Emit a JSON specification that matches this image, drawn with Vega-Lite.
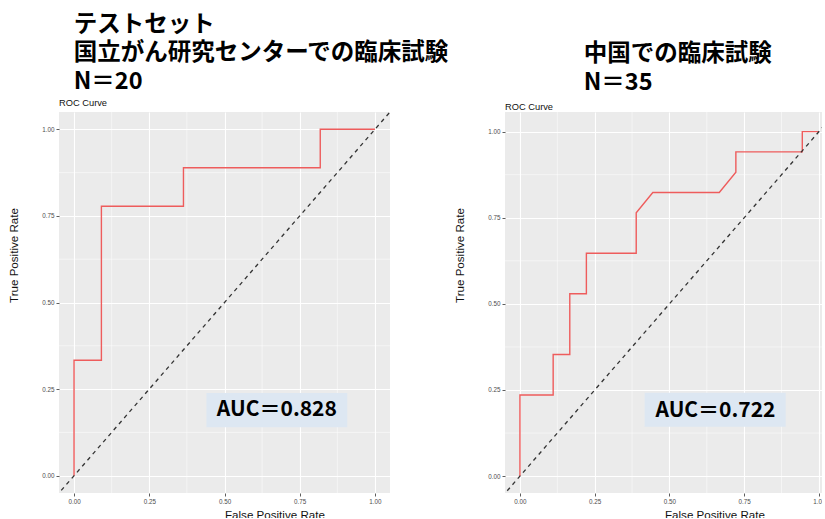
{
  "$schema": "https://vega.github.io/schema/vega-lite/v6.json",
  "background": "white",
  "padding": {"left": 8, "top": 12, "right": -4, "bottom": -3},
  "spacing": 4,
  "datasets": {
    "rocA": [
      {"x": 0, "y": 0, "i": 0}, {"x": 0, "y": 0.3333, "i": 1}, {"x": 0.0909, "y": 0.3333, "i": 2},
      {"x": 0.0909, "y": 0.7778, "i": 3}, {"x": 0.3636, "y": 0.7778, "i": 4}, {"x": 0.3636, "y": 0.8889, "i": 5},
      {"x": 0.8182, "y": 0.8889, "i": 6}, {"x": 0.8182, "y": 1, "i": 7}, {"x": 1, "y": 1, "i": 8}
    ],
    "rocB": [
      {"x": 0, "y": 0, "i": 0}, {"x": 0, "y": 0.2353, "i": 1}, {"x": 0.1111, "y": 0.2353, "i": 2},
      {"x": 0.1111, "y": 0.3529, "i": 3}, {"x": 0.1667, "y": 0.3529, "i": 4}, {"x": 0.1667, "y": 0.5294, "i": 5},
      {"x": 0.2222, "y": 0.5294, "i": 6}, {"x": 0.2222, "y": 0.6471, "i": 7}, {"x": 0.3889, "y": 0.6471, "i": 8},
      {"x": 0.3889, "y": 0.7647, "i": 9}, {"x": 0.4444, "y": 0.8235, "i": 10}, {"x": 0.6667, "y": 0.8235, "i": 11},
      {"x": 0.7222, "y": 0.8824, "i": 12}, {"x": 0.7222, "y": 0.9412, "i": 13}, {"x": 0.9444, "y": 0.9412, "i": 14},
      {"x": 0.9444, "y": 1, "i": 15}, {"x": 1, "y": 1, "i": 16}
    ],
    "diag": [{"x": -0.06, "y": -0.06, "i": 0}, {"x": 1.06, "y": 1.06, "i": 1}],
    "minorX": [{"x": 0.125}, {"x": 0.375}, {"x": 0.625}, {"x": 0.875}],
    "minorY": [{"y": 0.125}, {"y": 0.375}, {"y": 0.625}, {"y": 0.875}],
    "aucA": [{"auc": "AUC＝0.828"}],
    "aucB": [{"auc": "AUC＝0.722"}]
  },
  "config": {
    "font": "Liberation Sans",
    "view": {"fill": "#EBEBEB", "stroke": null},
    "axis": {
      "domain": false,
      "grid": true,
      "gridColor": "#FFFFFF",
      "gridWidth": 1.1,
      "tickColor": "#333333",
      "tickSize": 3,
      "tickWidth": 0.8,
      "labelColor": "#4D4D4D",
      "labelFont": "Liberation Sans",
      "labelFontSize": 6.3,
      "labelPadding": 2,
      "titleFont": "Liberation Sans",
      "titleFontSize": 11.6,
      "titleFontWeight": "normal",
      "titleColor": "#111111",
      "titleAnchor": "middle",
      "titleAlign": "left"
    },
    "axisX": {"titlePadding": 5},
    "axisY": {"titlePadding": 22}
  },
  "hconcat": [
    {
      "title": {
        "text": ["テストセット", "国立がん研究センターでの臨床試験", "N＝20"],
        "anchor": "start",
        "font": "Noto Sans CJK JP",
        "fontSize": 23.5,
        "fontWeight": "bold",
        "lineHeight": 28.5,
        "color": "#000000",
        "dx": 65,
        "offset": 6
      },
      "vconcat": [
        {
          "title": {"text": "ROC Curve", "anchor": "start", "frame": "group", "font": "Liberation Sans", "fontSize": 9.3, "fontWeight": "normal", "color": "#111111", "offset": 3},
          "width": 331,
          "height": 381,
          "layer": [
            {
              "data": {"name": "minorX"},
              "mark": {"type": "rule", "color": "#FFFFFF", "strokeWidth": 0.5},
              "encoding": {"x": {"field": "x", "type": "quantitative", "title": "False Positive Rate"}}
            },
            {
              "data": {"name": "minorY"},
              "mark": {"type": "rule", "color": "#FFFFFF", "strokeWidth": 0.5},
              "encoding": {"y": {"field": "y", "type": "quantitative", "title": "True Positive Rate"}}
            },
            {
              "data": {"name": "rocA"},
              "mark": {"type": "line", "color": "#EE5C5C", "strokeWidth": 1.4, "clip": true},
              "encoding": {
                "x": {"field": "x", "type": "quantitative", "title": "False Positive Rate",
                  "scale": {"domain": [-0.05, 1.05], "nice": false, "zero": false},
                  "axis": {"values": [0, 0.25, 0.5, 0.75, 1], "format": ".2f"}},
                "y": {"field": "y", "type": "quantitative", "title": "True Positive Rate",
                  "scale": {"domain": [-0.05, 1.05], "nice": false, "zero": false},
                  "axis": {"values": [0, 0.25, 0.5, 0.75, 1], "format": ".2f"}},
                "order": {"field": "i", "type": "quantitative"}
              }
            },
            {
              "data": {"name": "diag"},
              "mark": {"type": "line", "color": "#333333", "strokeWidth": 1.3, "strokeDash": [4, 4], "clip": true},
              "encoding": {
                "x": {"field": "x", "type": "quantitative", "title": "False Positive Rate"},
                "y": {"field": "y", "type": "quantitative", "title": "True Positive Rate"},
                "order": {"field": "i", "type": "quantitative"}
              }
            },
            {
              "data": {"name": "aucA"},
              "mark": {"type": "rect", "color": "#DDE7F2"},
              "encoding": {
                "x": {"datum": 0.44, "type": "quantitative", "title": "False Positive Rate"},
                "x2": {"datum": 0.908},
                "y": {"datum": 0.14, "type": "quantitative", "title": "True Positive Rate"},
                "y2": {"datum": 0.239}
              }
            },
            {
              "data": {"name": "aucA"},
              "mark": {"type": "text", "font": "Noto Sans CJK JP", "fontWeight": "bold", "fontSize": 21, "color": "#000000", "align": "center", "baseline": "middle"},
              "encoding": {
                "x": {"datum": 0.674, "type": "quantitative", "title": "False Positive Rate"},
                "y": {"datum": 0.19, "type": "quantitative", "title": "True Positive Rate"},
                "text": {"field": "auc", "type": "nominal"}
              }
            }
          ]
        }
      ]
    },
    {
      "title": {
        "text": ["中国での臨床試験", "N＝35"],
        "anchor": "start",
        "font": "Noto Sans CJK JP",
        "fontSize": 23.5,
        "fontWeight": "bold",
        "lineHeight": 28.5,
        "color": "#000000",
        "dx": 129,
        "offset": 9
      },
      "vconcat": [
        {
          "title": {"text": "ROC Curve", "anchor": "start", "frame": "group", "font": "Liberation Sans", "fontSize": 9.3, "fontWeight": "normal", "color": "#111111", "offset": -1},
          "width": 319,
          "height": 381,
          "layer": [
            {
              "data": {"name": "minorX"},
              "mark": {"type": "rule", "color": "#FFFFFF", "strokeWidth": 0.5},
              "encoding": {"x": {"field": "x", "type": "quantitative", "title": "False Positive Rate"}}
            },
            {
              "data": {"name": "minorY"},
              "mark": {"type": "rule", "color": "#FFFFFF", "strokeWidth": 0.5},
              "encoding": {"y": {"field": "y", "type": "quantitative", "title": "True Positive Rate"}}
            },
            {
              "data": {"name": "rocB"},
              "mark": {"type": "line", "color": "#EE5C5C", "strokeWidth": 1.4, "clip": true},
              "encoding": {
                "x": {"field": "x", "type": "quantitative", "title": "False Positive Rate",
                  "scale": {"domain": [-0.05, 1.017], "nice": false, "zero": false},
                  "axis": {"values": [0, 0.25, 0.5, 0.75, 1], "format": ".2f"}},
                "y": {"field": "y", "type": "quantitative", "title": "True Positive Rate",
                  "scale": {"domain": [-0.049, 1.057], "nice": false, "zero": false},
                  "axis": {"values": [0, 0.25, 0.5, 0.75, 1], "format": ".2f"}},
                "order": {"field": "i", "type": "quantitative"}
              }
            },
            {
              "data": {"name": "diag"},
              "mark": {"type": "line", "color": "#333333", "strokeWidth": 1.3, "strokeDash": [4, 4], "clip": true},
              "encoding": {
                "x": {"field": "x", "type": "quantitative", "title": "False Positive Rate"},
                "y": {"field": "y", "type": "quantitative", "title": "True Positive Rate"},
                "order": {"field": "i", "type": "quantitative"}
              }
            },
            {
              "data": {"name": "aucB"},
              "mark": {"type": "rect", "color": "#DDE7F2"},
              "encoding": {
                "x": {"datum": 0.417, "type": "quantitative", "title": "False Positive Rate"},
                "x2": {"datum": 0.889},
                "y": {"datum": 0.143, "type": "quantitative", "title": "True Positive Rate"},
                "y2": {"datum": 0.242}
              }
            },
            {
              "data": {"name": "aucB"},
              "mark": {"type": "text", "font": "Noto Sans CJK JP", "fontWeight": "bold", "fontSize": 21, "color": "#000000", "align": "center", "baseline": "middle"},
              "encoding": {
                "x": {"datum": 0.654, "type": "quantitative", "title": "False Positive Rate"},
                "y": {"datum": 0.19, "type": "quantitative", "title": "True Positive Rate"},
                "text": {"field": "auc", "type": "nominal"}
              }
            }
          ]
        }
      ]
    }
  ]
}
